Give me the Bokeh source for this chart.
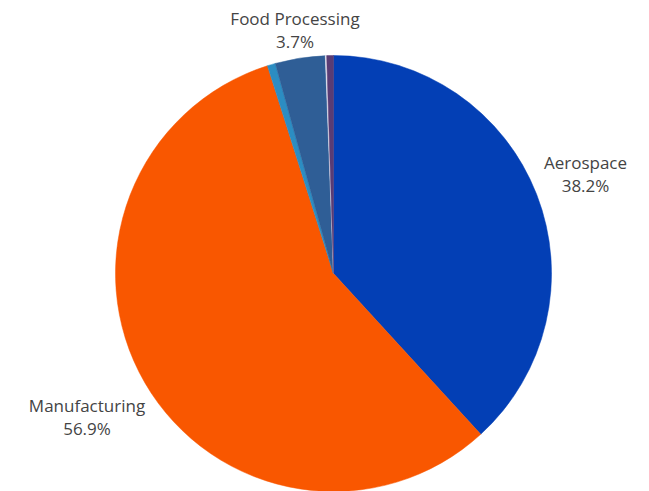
import numpy as np
from bokeh.plotting import figure
from bokeh.models import ColumnDataSource, Range1d
from bokeh.embed import file_html
from bokeh.resources import INLINE
from bokeh.core.properties import value

# ---- data ----
sectors = ["Aerospace", "Manufacturing", "Energy", "Food Processing", "Other", "Healthcare"]
shares = [38.2, 56.9, 0.6, 3.7, 0.1, 0.5]
colors = ["#033FB5", "#F95700", "#2C8DC2", "#2F5E96", "#ECE8F2", "#5A3C74"]
labeled = ["Aerospace", "Manufacturing", "Food Processing"]

# ---- layout ----
W, H = 649, 491
cx, cy, R = 333, 218, 218
label_pos = {  # anchor (centre x, baseline y of first line) in figure units
    "Aerospace": (585, 329),
    "Manufacturing": (86.5, 86),
    "Food Processing": (294.5, 473),
}
line_gap = 22.5

vals = np.array(shares, dtype=float)
frac = vals / vals.sum()
cum = np.concatenate([[0], np.cumsum(frac)])
start = np.pi / 2 - 2 * np.pi * cum[:-1]
end = np.pi / 2 - 2 * np.pi * cum[1:]

src = ColumnDataSource(dict(sector=sectors, share=shares, color=colors,
                            start=start, end=end))

p = figure(width=W, height=H, x_range=Range1d(0, W), y_range=Range1d(0, H),
           output_backend="svg", toolbar_location=None, min_border=0,
           background_fill_color="white", border_fill_color="white")
p.axis.visible = False
p.grid.visible = False
p.outline_line_color = None

p.wedge(x=cx, y=cy, radius=R, start_angle="start", end_angle="end",
        direction="clock", fill_color="color", line_color="color",
        line_width=0.5, source=src)

names, pcts, lx, ly1, ly2 = [], [], [], [], []
for s, v in zip(sectors, shares):
    if s in label_pos:
        x, y = label_pos[s]
        names.append(s)
        pcts.append(f"{v:.1f}%")
        lx.append(x)
        ly1.append(y)
        ly2.append(y - line_gap)

lsrc = ColumnDataSource(dict(x=lx, y1=ly1, y2=ly2, name=names, pct=pcts))
common = dict(text_font=value("Open Sans"), text_font_size="17px",
              text_color="#444444", text_align="center", text_baseline="alphabetic")
p.text(x="x", y="y1", text="name", source=lsrc, **common)
p.text(x="x", y="y2", text="pct", source=lsrc, **common)

open("out.html", "w").write(file_html(p, INLINE))
